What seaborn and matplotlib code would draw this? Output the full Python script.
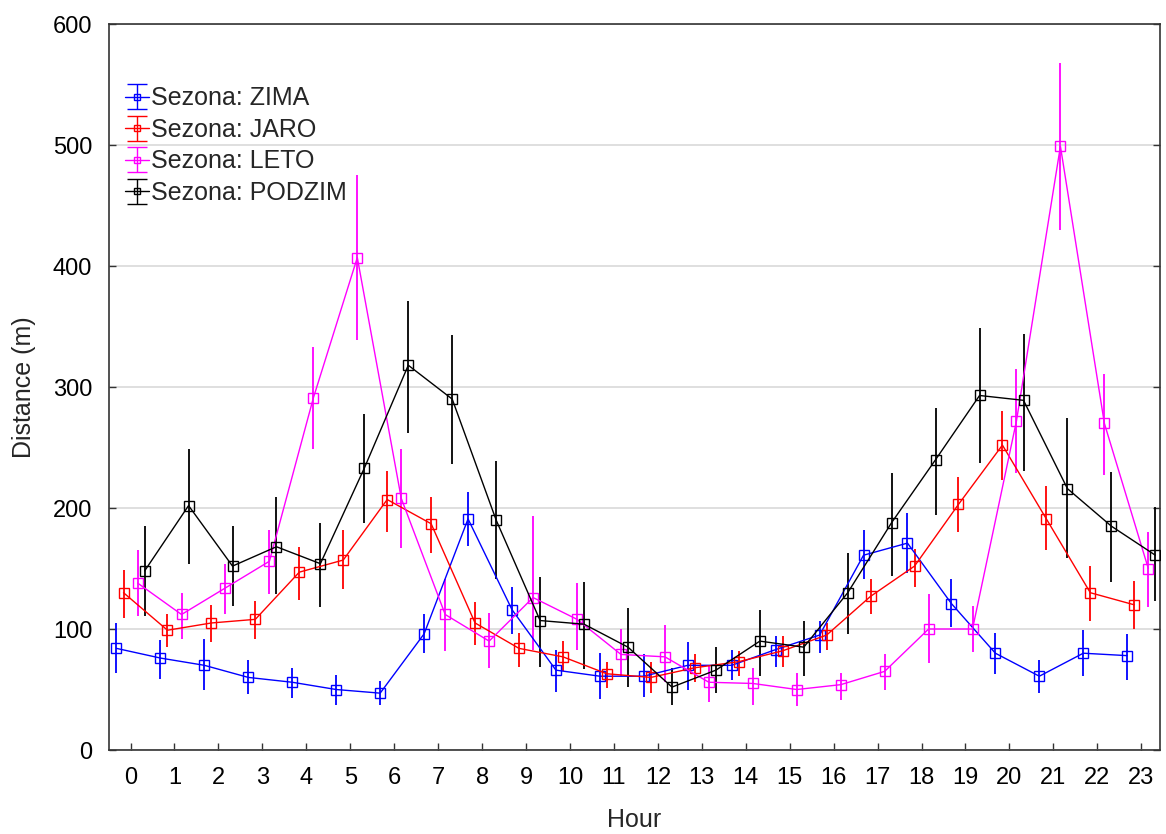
import numpy as np
import pandas as pd
import matplotlib
matplotlib.use("Agg")
import matplotlib.pyplot as plt
import seaborn as sns

hours = list(range(24))
seasons = ["Sezona: ZIMA", "Sezona: JARO", "Sezona: LETO", "Sezona: PODZIM"]

zima_mean = [84, 76, 70, 60, 56, 50, 47, 96, 191, 116, 66, 61, 61, 70, 70, 83, 95, 161, 171, 121, 80, 61, 80, 78]
zima_lo = [64, 59, 50, 46, 43, 37, 37, 80, 169, 96, 48, 42, 44, 50, 58, 69, 80, 141, 146, 102, 63, 47, 61, 58]
zima_hi = [105, 91, 92, 74, 68, 62, 57, 112, 213, 135, 83, 80, 79, 89, 83, 94, 107, 182, 196, 141, 97, 74, 99, 96]

jaro_mean = [130, 99, 105, 108, 147, 157, 207, 187, 105, 84, 77, 63, 60, 68, 73, 82, 95, 127, 152, 203, 252, 191, 130, 120]
jaro_lo = [109, 85, 89, 92, 124, 133, 180, 163, 87, 69, 65, 51, 47, 56, 61, 69, 83, 112, 135, 180, 223, 165, 107, 100]
jaro_hi = [149, 112, 120, 123, 168, 182, 231, 209, 122, 97, 90, 73, 73, 79, 82, 94, 105, 141, 166, 226, 280, 218, 152, 140]

leto_mean = [138, 112, 134, 156, 291, 407, 208, 112, 90, 126, 108, 79, 77, 56, 55, 50, 54, 65, 100, 100, 272, 499, 270, 150]
leto_lo = [111, 92, 112, 129, 249, 339, 167, 82, 68, 83, 83, 61, 56, 40, 37, 36, 41, 50, 72, 81, 229, 430, 227, 118]
leto_hi = [165, 130, 154, 182, 333, 475, 249, 141, 113, 193, 138, 100, 103, 70, 68, 64, 64, 79, 129, 119, 315, 568, 311, 180]

podzim_mean = [148, 202, 152, 168, 154, 233, 318, 290, 190, 107, 104, 85, 52, 66, 90, 85, 130, 188, 240, 293, 289, 216, 185, 161]
podzim_lo = [111, 154, 119, 129, 118, 188, 262, 236, 141, 69, 67, 52, 37, 47, 61, 61, 96, 144, 194, 237, 231, 159, 139, 123]
podzim_hi = [185, 249, 185, 209, 188, 278, 371, 343, 239, 143, 139, 117, 68, 85, 116, 107, 163, 229, 283, 349, 344, 274, 230, 201]

y_ticks = [0, 100, 200, 300, 400, 500, 600]

series = {
    seasons[0]: (zima_mean, zima_lo, zima_hi),
    seasons[1]: (jaro_mean, jaro_lo, jaro_hi),
    seasons[2]: (leto_mean, leto_lo, leto_hi),
    seasons[3]: (podzim_mean, podzim_lo, podzim_hi),
}
offsets = {seasons[0]: -0.32, seasons[1]: -0.16, seasons[2]: 0.16, seasons[3]: 0.32}
colors = {seasons[0]: "#0000FF", seasons[1]: "#FF0000", seasons[2]: "#FF00FF", seasons[3]: "#000000"}

rows = []
for s, (m, lo, hi) in series.items():
    for h, a, b, c in zip(hours, m, lo, hi):
        rows.append({"season": s, "hour": h, "x": h + offsets[s], "mean": a, "lo": b, "hi": c})
df = pd.DataFrame(rows)

sns.set_theme(style="white")
plt.rcParams["font.family"] = ["Liberation Sans", "DejaVu Sans"]

fig = plt.figure(figsize=(11.66, 8.34), dpi=100)
ax = fig.add_axes([0.0935, 0.1007, 0.9015, 0.8705])

for s in seasons:
    d = df[df["season"] == s]
    c = colors[s]
    ax.vlines(d["x"], d["lo"], d["hi"], color=c, lw=1.3, zorder=2)
    sns.lineplot(data=d, x="x", y="mean", ax=ax, color=c, lw=1.0, marker="s",
                 markersize=7, markerfacecolor="none", markeredgecolor=c,
                 markeredgewidth=1.0, errorbar=None, sort=False, zorder=3)

# legend proxies with caps
handles = []
for s in seasons:
    c = colors[s]
    h = ax.errorbar([np.nan], [np.nan], yerr=[1], color=c, lw=1.0, marker="s",
                    markersize=5, markerfacecolor="none", markeredgecolor=c,
                    capsize=7, elinewidth=1.0, label=s)
    handles.append(h)
ax.legend(handles=handles, labels=seasons, loc="upper left",
          bbox_to_anchor=(-0.006, 0.945), frameon=False, fontsize=18,
          handlelength=0.95, handletextpad=0.1, labelspacing=0.3,
          borderaxespad=0.5)

ax.set_xlim(-0.49, 23.43)
ax.set_ylim(0, 600)
ax.set_xticks(hours)
ax.set_xticklabels([str(h) for h in hours])
ax.set_yticks(y_ticks)
ax.set_yticklabels([str(v) for v in y_ticks])
ax.yaxis.grid(True, color="#d9d9d9", lw=1.2)
ax.xaxis.grid(False)
ax.set_axisbelow(True)
for sp in ax.spines.values():
    sp.set_color("#333333")
    sp.set_linewidth(1.2)
ax.tick_params(axis="both", direction="in", length=5, width=1, colors="#333333",
               labelcolor="black", labelsize=17, pad=12)
ax.tick_params(axis="y", right=True, left=True)
ax.tick_params(axis="x", bottom=True, top=False)
ax.set_xlabel("Hour", fontsize=18, labelpad=14)
ax.set_ylabel("Distance (m)", fontsize=18, labelpad=12)

fig.savefig("out.png", dpi=100)
